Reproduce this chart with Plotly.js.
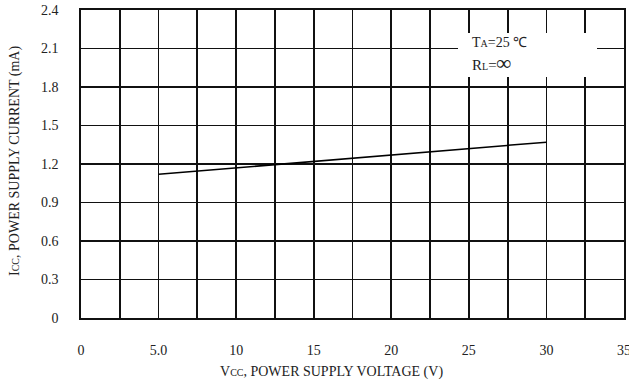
<!DOCTYPE html>
<html>
<head>
<meta charset="utf-8">
<script src="https://cdn.plot.ly/plotly-3.0.1.min.js"></script>
<style>html,body{margin:0;padding:0;background:#fff;}</style>
</head>
<body>
<div id="chart" style="width:629px;height:385px;"></div>
<script>
// Data
const vcc = [5, 10, 15, 20, 25, 30];
const icc = [1.12, 1.17, 1.22, 1.27, 1.32, 1.37];

const xTickVals = [0, 5, 10, 15, 20, 25, 30, 35];
const xTickText = ["0", "5.0", "10", "15", "20", "25", "30", "35"];
const yTickVals = [0, 0.3, 0.6, 0.9, 1.2, 1.5, 1.8, 2.1, 2.4];
const yTickText = ["0", "0.3", "0.6", "0.9", "1.2", "1.5", "1.8", "2.1", "2.4"];

const xTitle = "V<span style='font-size:10px'>CC</span>, POWER SUPPLY VOLTAGE (V)";
const yTitle = "I<span style='font-size:10px'>CC</span>, POWER SUPPLY CURRENT (mA)";
const condTA = "T<span style='font-size:10px'>A</span>=25 ℃";
const condRL = "R<span style='font-size:10px'>L</span>=<span style='font-size:21px;font-weight:bold'>∞</span>";

const serif = "Liberation Serif, Times New Roman, serif";
const gridCol = "#111";

const trace = {
  x: vcc, y: icc, type: "scatter", mode: "lines",
  line: {color: "#000", width: 1.5},
  hoverinfo: "skip", showlegend: false
};

const layout = {
  width: 629, height: 385,
  margin: {l: 81, r: 5, t: 10, b: 67},
  paper_bgcolor: "#fff", plot_bgcolor: "#fff",
  font: {family: serif, size: 14, color: "#222"},
  xaxis: {
    range: [0, 35], tickmode: "array", tickvals: xTickVals, ticktext: xTickText,
    showgrid: true, gridcolor: gridCol, gridwidth: 1.8,
    minor: {dtick: 2.5, showgrid: true, gridcolor: gridCol, gridwidth: 1.8},
    showline: true, linecolor: gridCol, linewidth: 1.8, mirror: true,
    zeroline: false, ticks: "", ticklabelstandoff: 18,
    ticklabeloverflow: "allow",
    tickfont: {family: serif, size: 14, color: "#222"},
    fixedrange: true
  },
  yaxis: {
    range: [0, 2.4], tickmode: "array", tickvals: yTickVals, ticktext: yTickText,
    showgrid: true, gridcolor: gridCol, gridwidth: 1.8,
    showline: true, linecolor: gridCol, linewidth: 1.8, mirror: true,
    zeroline: false, ticks: "", ticklabelstandoff: 18,
    tickfont: {family: serif, size: 14, color: "#222"},
    fixedrange: true
  },
  shapes: [{
    type: "rect", xref: "paper", yref: "paper", layer: "above",
    x0: 0.6943, x1: 0.9503, y0: 0.7825, y1: 0.9253,
    fillcolor: "#fff", line: {width: 0}
  }],
  annotations: [
    {text: condTA, xref: "paper", yref: "paper", x: 0.7164, y: (318 - 43) / 308,
     xanchor: "left", yanchor: "middle", align: "left", showarrow: false,
     font: {family: serif, size: 14, color: "#222"}},
    {text: condRL, xref: "paper", yref: "paper", x: 0.7164, y: (318 - 63) / 308,
     xanchor: "left", yanchor: "middle", align: "left", showarrow: false,
     font: {family: serif, size: 15, color: "#222"}},
    {text: xTitle, xref: "paper", yref: "paper", x: (331 - 81) / 543, y: (318 - 372) / 308,
     xanchor: "center", yanchor: "middle", showarrow: false,
     font: {family: serif, size: 14, color: "#222"}},
    {text: yTitle, xref: "paper", yref: "paper", x: (15 - 81) / 543, y: (318 - 161) / 308,
     xanchor: "center", yanchor: "middle", textangle: -90, showarrow: false,
     font: {family: serif, size: 14, color: "#222"}}
  ]
};

Plotly.newPlot("chart", [trace], layout, {displayModeBar: false, staticPlot: true});
</script>
</body>
</html>
